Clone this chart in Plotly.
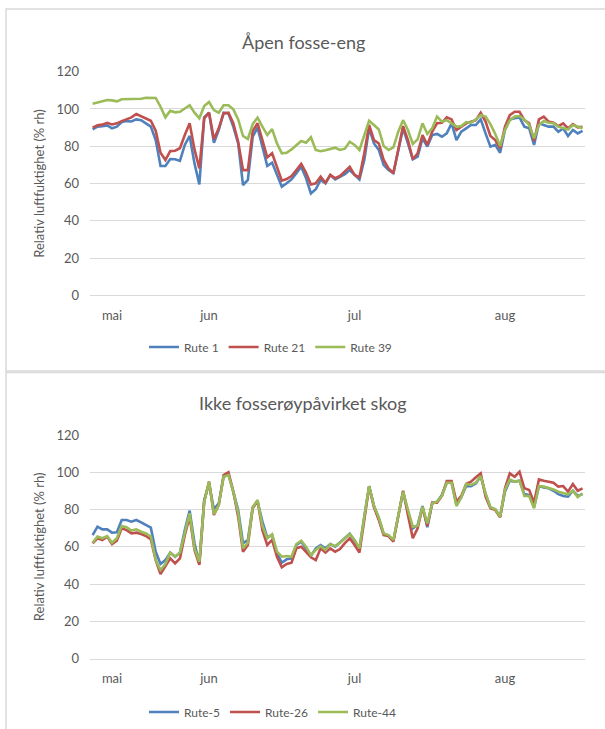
import pandas as pd
import plotly.graph_objects as go

START_DATE = "2014-05-08"
MONTH_TICKS = ["2014-05-12", "2014-06-01", "2014-07-01", "2014-08-01"]
MONTH_LABELS = ["mai", "jun", "jul", "aug"]
Y_TICKS = [0, 20, 40, 60, 80, 100, 120]

TITLE_TOP = "Åpen fosse-eng"
TITLE_BOTTOM = "Ikke fosserøypåvirket skog"
Y_TITLE = "Relativ luftfuktighet (% rh)"

rute_1 = [89, 90.5, 90.7, 91.2, 89.6, 90.5, 93, 93.5, 93.3, 94.4, 94, 92.3, 90.5, 83.3, 69.4, 69.4,
          73.1, 73, 72.1, 80.7, 85.5, 70.8, 59.5, 95.5, 98, 81.9, 88.7, 98, 97.6, 90.5, 81.5, 59.2,
          61.9, 85.1, 90, 79.8, 69.4, 71.2, 64.6, 58.3, 60.1, 62.2, 65.5, 69, 62.8, 54.7, 56.9, 61.9,
          60.1, 64.6, 62.2, 63.5, 65, 67.2, 64.6, 62.2, 72.6, 89.6, 81.5, 78, 69.9, 67.2, 65.5, 77.1,
          89.6, 81.5, 73, 74.4, 84.2, 79.8, 86, 86.6, 85.1, 86.9, 92.3, 83.3, 87.8, 89.6, 91.4, 91.4,
          94.4, 86.9, 79.8, 80.7, 76.5, 88.7, 94.4, 95, 95.5, 90.5, 89.6, 80.7, 92.3, 91.4, 90.5, 90.5,
          87.8, 89.6, 85.5, 88.7, 86.9, 88.3]
rute_21 = [90, 91.2, 91.6, 92.6, 91.7, 92.3, 93.5, 94.6, 95.5, 97.3, 96.2, 95, 93.7, 88.3, 76.5, 72.6,
           77.4, 77.6, 78.9, 86, 92.3, 78.3, 68.1, 95, 98, 83.7, 89.6, 97.6, 98, 92.3, 82.4, 67.2,
           67.2, 88.2, 92.3, 83.3, 74, 76.2, 69, 61.5, 62.4, 64, 67.2, 70.5, 65.8, 59.5, 60.1, 63.7,
           60.4, 64.6, 62.8, 64, 66.5, 69, 64.6, 63.3, 76.2, 91.4, 83.3, 81.5, 72.6, 68.1, 65.5, 78.9,
           90.8, 83.3, 73, 76.2, 86, 80.7, 87.8, 92.3, 92.6, 95.5, 94.4, 88.7, 90.5, 92.3, 93.2, 94,
           98, 93.2, 85.5, 83.3, 78.9, 90.5, 96.7, 98.5, 98.5, 94, 92.3, 82.8, 94.4, 95.9, 93.2, 92.6,
           90.8, 92.3, 89.6, 91.9, 90.1, 90.5]
rute_39 = [102.8, 103.4, 103.9, 104.8, 104.6, 104.1, 105.2, 105.2, 105.2, 105.5, 105.5, 106, 106, 105.9,
           101.2, 95.5, 99, 98.2, 98.5, 100.1, 102, 98, 95, 101.6, 103.7, 99.4, 98, 102, 102, 99.8,
           94.4, 85.5, 83.9, 91.9, 95.3, 90.5, 86, 89.2, 81.5, 76.2, 76.5, 78.3, 80.7, 82.8, 81.9,
           84.8, 78, 77.3, 77.8, 78.3, 79.2, 78, 78.7, 82.4, 80.7, 78, 86, 93.7, 91.4, 89, 80.1, 78,
           79.4, 87.8, 94, 88.7, 81.2, 83.7, 92.3, 86.6, 89.6, 95.9, 93.2, 94, 92.3, 90.5, 90.8, 93,
           92.6, 94.4, 96.7, 95.9, 91.9, 86.6, 80.1, 88.7, 94, 95.9, 96.2, 94.4, 91.4, 84.2, 91.4, 93.5,
           92.6, 92.3, 90.5, 89.6, 89, 91.4, 90.5, 89.6]

rute_5 = [66.3, 70.8, 69.4, 69.4, 67.6, 67.8, 74.4, 74.4, 73.5, 74.4, 73.1, 71.9, 70.3, 57.4, 50.8, 52.9,
          56.9, 54.7, 56.9, 69, 79.4, 61.9, 51.1, 85.1, 94.1, 80.1, 83.3, 97.6, 98.9, 89.6, 79.8, 61.9,
          63.7, 81.2, 84.2, 73.5, 65.1, 66.3, 56.5, 51.5, 53.3, 53.8, 61, 62.8, 59.2, 55.1, 59.2, 61,
          59.2, 61.5, 60.1, 62.3, 64.5, 67, 63.3, 58.7, 76.2, 92.6, 81.9, 75.3, 66.9, 65.8, 63.3, 77.1,
          89.6, 78.9, 69.9, 71.7, 81.9, 70.5, 83.3, 84.2, 87.8, 94.4, 94.4, 82.4, 86.6, 92.6, 92.6, 94,
          98, 88.3, 81.2, 80.1, 76.2, 89.6, 95.5, 95, 95.5, 88.3, 87.8, 81.2, 92.6, 91.9, 91.4, 90.1,
          88.3, 87.3, 86.9, 90.1, 87.3, 88.3]
rute_26 = [61.9, 64.6, 63.7, 65.5, 61.5, 63.3, 69.9, 69, 67.2, 67.6, 66.9, 65.8, 64, 52.9, 45.4, 49.4,
           53.8, 51.1, 53.8, 66.3, 76.2, 58.3, 50.3, 84.2, 95, 77.1, 82.4, 98.5, 100, 89.6, 76.2, 57.4,
           61, 80.7, 84.8, 69, 61, 63.7, 54.7, 49, 50.8, 51.5, 59.2, 60.1, 57.4, 54.4, 52.9, 59.2,
           56.9, 59.2, 57.4, 58.8, 62, 64.6, 61, 56.9, 74.4, 92.3, 81.2, 74.4, 66.3, 65.8, 62.8, 77.1,
           90.1, 77.1, 64.6, 69.9, 81.2, 71.2, 83.7, 83.7, 87.3, 95.3, 95.3, 84.2, 87.3, 93.7, 95, 97.3,
           99.4, 86.9, 80.7, 79.8, 75.8, 91.4, 99.4, 97.6, 100.3, 91.4, 90.5, 83.7, 96.2, 95.5, 95, 94.4,
           92.3, 92.6, 89.6, 93.7, 90.1, 91.4]
rute_44 = [62.2, 65.5, 64.6, 65.8, 62.2, 64.6, 71.2, 70.5, 68.7, 69.4, 68.1, 67.2, 65.5, 52.9, 47.6, 50.8,
           56.9, 54.7, 56.9, 67.6, 78, 59.2, 52, 84.2, 95, 77.6, 82.4, 97.6, 98.5, 89.6, 78.3, 59.2,
           62.2, 81.2, 85.1, 71.2, 64.6, 66.7, 57.4, 54.7, 55.1, 54.7, 61.5, 63.3, 60.1, 55.6, 58.3, 60.4,
           58.3, 61.5, 60.4, 62.2, 64.6, 66.9, 63.7, 59.2, 76.2, 92.6, 81.9, 75.8, 67.2, 66.3, 63.7, 77.1,
           89.6, 79.8, 70.8, 71.2, 81.5, 72.6, 83.3, 84.2, 87.3, 94.4, 94.4, 81.9, 86.6, 93.7, 93.2, 94.4,
           98, 88.7, 81.2, 80.1, 76.2, 90.5, 96.2, 95, 95.5, 87.3, 87.3, 80.7, 92.6, 92.3, 91.7, 90.8,
           89.6, 88.7, 88.2, 90.1, 86.6, 88.7]

DATES = pd.date_range(START_DATE, periods=len(rute_1), freq="D")

BLUE, RED, GREEN = "#4F81BD", "#C0504D", "#9BBB59"
TXT = "#595959"
GRID = "#D9D9D9"
FONT = "Lato"
W, H = 605, 729

fig = go.Figure()
top_series = [("Rute 1", rute_1, BLUE), ("Rute 21", rute_21, RED), ("Rute 39", rute_39, GREEN)]
bot_series = [("Rute-5", rute_5, BLUE), ("Rute-26", rute_26, RED), ("Rute-44", rute_44, GREEN)]
for name, vals, col in top_series:
    fig.add_trace(go.Scatter(x=DATES, y=vals, name=name, mode="lines",
                             line=dict(color=col, width=2.6), xaxis="x", yaxis="y", legend="legend"))
for name, vals, col in bot_series:
    fig.add_trace(go.Scatter(x=DATES, y=vals, name=name, mode="lines",
                             line=dict(color=col, width=2.6), xaxis="x2", yaxis="y2", legend="legend2"))


def px_x(x):
    return x / W


def px_y(y):
    return (H - y) / H


x_lo = DATES[0] - pd.Timedelta(hours=13)
x_hi = DATES[-1] + pd.Timedelta(hours=12)

xcommon = dict(type="date", range=[x_lo, x_hi], tickvals=MONTH_TICKS, ticktext=MONTH_LABELS,
               showgrid=False, zeroline=False, showline=True, linecolor=GRID, linewidth=1,
               ticks="", ticklabelstandoff=8, tickfont=dict(family=FONT, size=13, color=TXT),
               domain=[px_x(90), px_x(585)])
ycommon = dict(range=[0, 120], tickvals=Y_TICKS, showgrid=True, gridcolor=GRID, gridwidth=1,
               zeroline=False, showline=False, ticks="", ticklabelstandoff=10,
               tickfont=dict(family=FONT, size=13, color=TXT),
               title=dict(text=Y_TITLE, font=dict(family=FONT, size=13, color=TXT), standoff=8))

legend_font = dict(family=FONT, size=12, color=TXT)

fig.update_layout(
    width=W, height=H, margin=dict(l=0, r=0, t=0, b=0, autoexpand=False),
    paper_bgcolor="white", plot_bgcolor="white",
    font=dict(family=FONT, color=TXT),
    xaxis=dict(**xcommon, anchor="y"),
    yaxis=dict(**ycommon, anchor="x", domain=[px_y(295.3), px_y(71.7)]),
    xaxis2=dict(**xcommon, anchor="y2"),
    yaxis2=dict(**ycommon, anchor="x2", domain=[px_y(658.7), px_y(435)]),
    legend=dict(orientation="h", x=px_x(144), xanchor="left", y=px_y(347), yanchor="middle",
                font=legend_font, bgcolor="rgba(0,0,0,0)"),
    legend2=dict(orientation="h", x=px_x(144), xanchor="left", y=px_y(712), yanchor="middle",
                 font=legend_font, bgcolor="rgba(0,0,0,0)"),
    showlegend=True,
    annotations=[
        dict(text=TITLE_TOP, x=px_x(303), y=px_y(42), xref="paper", yref="paper",
             xanchor="center", yanchor="middle",
             showarrow=False, font=dict(family=FONT, size=18, color=TXT)),
        dict(text=TITLE_BOTTOM, x=px_x(303), y=px_y(403), xref="paper", yref="paper",
             xanchor="center", yanchor="middle",
             showarrow=False, font=dict(family=FONT, size=18, color=TXT)),
    ],
    shapes=[
        dict(type="rect", xref="paper", yref="paper", x0=px_x(6), x1=px_x(615),
             y0=px_y(371), y1=px_y(9), line=dict(color=GRID, width=1.5)),
        dict(type="rect", xref="paper", yref="paper", x0=px_x(6), x1=px_x(615),
             y0=px_y(740), y1=px_y(372.5), line=dict(color=GRID, width=1.5)),
    ],
)

fig.write_html("out.html", config={"displayModeBar": False},
               post_script="document.body.style.margin='0';document.body.style.overflow='hidden';")
